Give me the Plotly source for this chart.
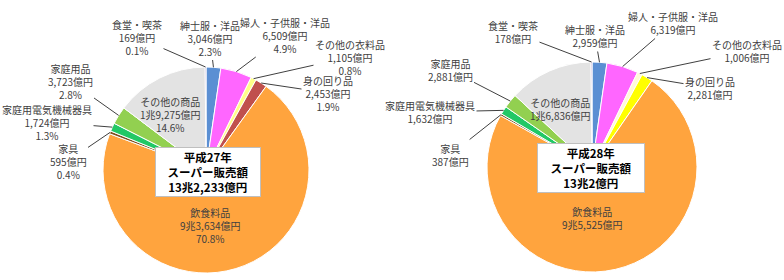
import math
import plotly.graph_objects as go

# ---------------- data ----------------
categories = ["紳士服・洋品", "婦人・子供服・洋品", "その他の衣料品", "身の回り品", "飲食料品",
              "家具", "家庭用電気機械器具", "家庭用品", "その他の商品", "食堂・喫茶"]
values_h27 = [3046, 6509, 1105, 2453, 93634, 595, 1724, 3723, 19275, 169]      # 億円
pct_h27 = ["2.3%", "4.9%", "0.8%", "1.9%", "70.8%", "0.4%", "1.3%", "2.8%", "14.6%", "0.1%"]
values_h28 = [2959, 6319, 1006, 2281, 95525, 387, 1632, 2881, 16836, 178]      # 億円
title_h27 = ["平成27年", "スーパー販売額", "13兆2,233億円"]
title_h28 = ["平成28年", "スーパー販売額", "13兆2億円"]

colors_h27 = ["#5B8FD3", "#FF66FF", "#FFFF88", "#C0504D", "#FFA43E",
              "#7F4F1F", "#22C866", "#92D050", "#E3E3E3", "#7030A0"]
colors_h28 = ["#5B8FD3", "#FF66FF", "#FFFBD8", "#FFFF00", "#FFA43E",
              "#7F4F1F", "#22C866", "#92D050", "#E3E3E3", "#7030A0"]

# ---------------- layout constants (pixels) ----------------
W, H = 784, 280
FONT = "Noto Sans CJK JP"
TXT = "#404040"

# pie centre / radius
P27 = dict(cx=206, cy=170, r=103)
P28 = dict(cx=592, cy=167, r=105)

# label centre positions (px), None = no leader (inside label)
lab27 = [(210, 38, True), (285, 35, True), (350, 57, True), (328, 93, True), (210, 225, False),
         (68, 161, True), (47, 122, True), (70, 81, True), (170, 114, False), (137, 37, True)]
lab28 = [(595, 36, True), (673, 23, True), (747, 51, True), (710, 88, True), (592, 218, False),
         (450, 155, True), (430, 112, True), (450, 70, True), (560, 109, False), (513, 32, True)]
box27 = (207.5, 172, 104, 48)
box28 = (591, 168, 106, 48)


def fmt_oku(v):
    if v >= 10000:
        return f"{v // 10000}兆{v % 10000:,}億円"
    return f"{v:,}億円"


def domain(p):
    return dict(x=[(p["cx"] - p["r"]) / W, (p["cx"] + p["r"]) / W],
                y=[(H - p["cy"] - p["r"]) / H, (H - p["cy"] + p["r"]) / H])


fig = go.Figure()
# hidden pixel-space axes for annotations
fig.add_trace(go.Scatter(x=[], y=[], showlegend=False, hoverinfo="skip"))

for vals, cols, p in [(values_h27, colors_h27, P27), (values_h28, colors_h28, P28)]:
    fig.add_trace(go.Pie(
        labels=categories, values=vals, sort=False, direction="clockwise", rotation=0,
        marker=dict(colors=cols, line=dict(color="white", width=1)),
        textinfo="none", hoverinfo="label+value", showlegend=False,
        domain=domain(p)))

annotations = []


def add_labels(vals, pcts, labs, p):
    total = sum(vals)
    cum = 0
    for i, v in enumerate(vals):
        mid = (cum + v / 2) / total * 2 * math.pi
        cum += v
        ex = p["cx"] + p["r"] * math.sin(mid)
        ey = p["cy"] - p["r"] * math.cos(mid)
        lines = [categories[i], fmt_oku(v)]
        if pcts is not None:
            lines.append(pcts[i])
        tx, ty, leader = labs[i]
        text = "<br>".join(lines)
        if leader:
            annotations.append(dict(
                x=ex, y=ey, xref="x", yref="y", ax=tx, ay=ty, axref="x", ayref="y",
                text=text, showarrow=True, arrowhead=0, arrowwidth=1, arrowcolor="#404040",
                standoff=0, startstandoff=0, font=dict(family=FONT, size=10, color=TXT),
                align="center"))
        else:
            annotations.append(dict(
                x=tx, y=ty, xref="x", yref="y", text=text, showarrow=False,
                font=dict(family=FONT, size=10, color=TXT), align="center"))


add_labels(values_h27, pct_h27, lab27, P27)
add_labels(values_h28, None, lab28, P28)

for (bx, by, bw, bh), t in [(box27, title_h27), (box28, title_h28)]:
    annotations.append(dict(
        x=bx, y=by, xref="x", yref="y", text="<b>" + "<br>".join(t) + "</b>", showarrow=False,
        width=bw, height=bh, bgcolor="white", bordercolor="#BFBFBF", borderwidth=1, borderpad=0,
        font=dict(family=FONT, size=11.5, color="black"), align="center", valign="middle"))

fig.update_layout(
    width=W, height=H, margin=dict(l=0, r=0, t=0, b=0),
    paper_bgcolor="white", plot_bgcolor="rgba(0,0,0,0)",
    xaxis=dict(range=[0, W], visible=False, domain=[0, 1], fixedrange=True),
    yaxis=dict(range=[H, 0], visible=False, domain=[0, 1], fixedrange=True),
    annotations=annotations, showlegend=False)

fig.write_html("out.html")
